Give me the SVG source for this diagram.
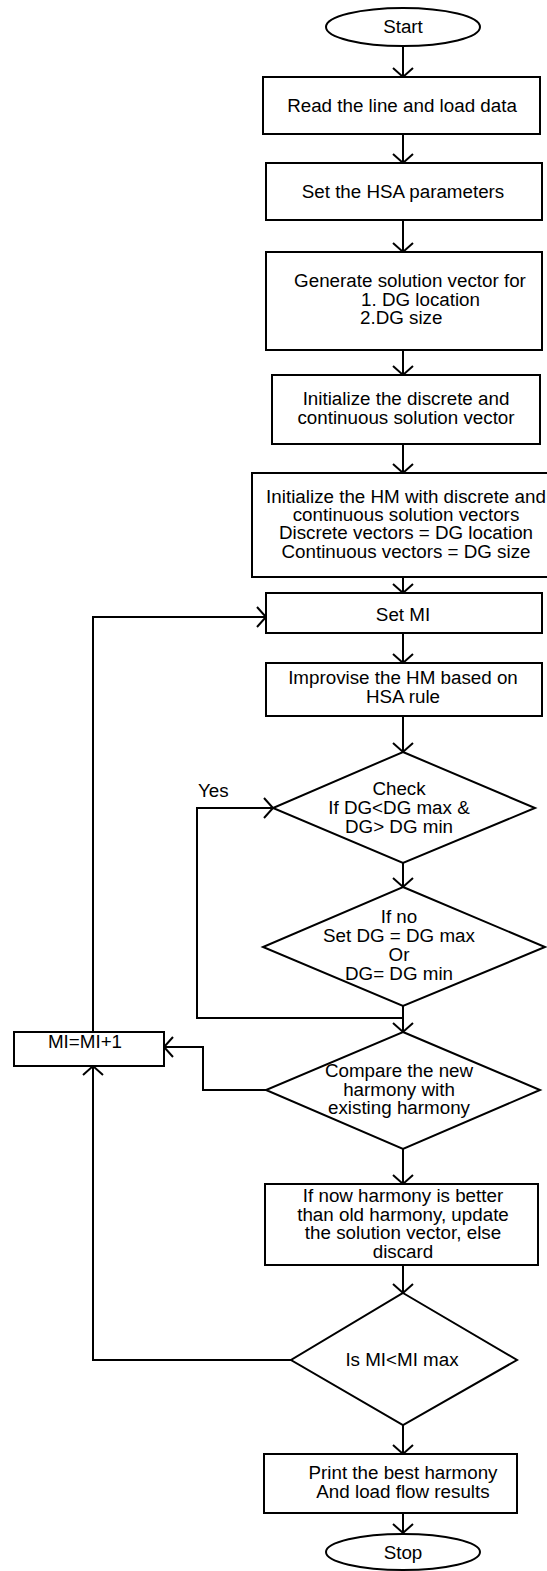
<svg xmlns="http://www.w3.org/2000/svg" width="547" height="1571" viewBox="0 0 547 1571">
  <style>
    .shape { fill: #ffffff; stroke: #000000; stroke-width: 2; }
    .edge { fill: none; stroke: #000000; stroke-width: 2; }
    text { font-family: "Liberation Sans", Arial, sans-serif; font-size: 18.8px; fill: #000000; text-anchor: middle; }
    .left { text-anchor: start; }
  </style>
  <defs>
    <marker id="arrow" markerUnits="userSpaceOnUse" markerWidth="24" markerHeight="24" viewBox="-12 -12 14 24" refX="0" refY="0" orient="auto" overflow="visible">
      <path d="M-9,-10 L0,0 L-9,10" fill="none" stroke="#000000" stroke-width="2"/>
    </marker>
  </defs>
  <rect width="547" height="1571" fill="#ffffff"/>

  <!-- connectors -->
  <g id="connectors">
    <path class="edge" d="M403,46 V77" marker-end="url(#arrow)"/>
    <path class="edge" d="M403,134 V163" marker-end="url(#arrow)"/>
    <path class="edge" d="M403,220 V252" marker-end="url(#arrow)"/>
    <path class="edge" d="M403,350 V375" marker-end="url(#arrow)"/>
    <path class="edge" d="M403,444 V473" marker-end="url(#arrow)"/>
    <path class="edge" d="M403,577 V593" marker-end="url(#arrow)"/>
    <path class="edge" d="M403,633 V663" marker-end="url(#arrow)"/>
    <path class="edge" d="M403,716 V752" marker-end="url(#arrow)"/>
    <path class="edge" d="M403,863 V887" marker-end="url(#arrow)"/>
    <path class="edge" d="M403,1006 V1032" marker-end="url(#arrow)"/>
    <path class="edge" d="M403,1018 H197 V808 H273" marker-end="url(#arrow)"/>
    <path class="edge" d="M266,1090 H203 V1047 H164" marker-end="url(#arrow)"/>
    <path class="edge" d="M93,1032 V617 H266" marker-end="url(#arrow)"/>
    <path class="edge" d="M403,1149 V1184" marker-end="url(#arrow)"/>
    <path class="edge" d="M403,1265 V1293" marker-end="url(#arrow)"/>
    <path class="edge" d="M291,1360 H93 V1066" marker-end="url(#arrow)"/>
    <path class="edge" d="M403,1425 V1454" marker-end="url(#arrow)"/>
    <path class="edge" d="M403,1513 V1533" marker-end="url(#arrow)"/>
    <text x="198" y="797" class="left">Yes</text>
  </g>

  <g id="start">
    <ellipse class="shape" cx="403" cy="27" rx="77" ry="19"/>
    <text x="403" y="33">Start</text>
  </g>

  <g id="read-data">
    <rect class="shape" x="263" y="77" width="277" height="57"/>
    <text x="402" y="112">Read the line and load data</text>
  </g>

  <g id="set-parameters">
    <rect class="shape" x="266" y="163" width="276" height="57"/>
    <text x="403" y="198">Set the HSA parameters</text>
  </g>

  <g id="generate-vector">
    <rect class="shape" x="266" y="252" width="276" height="98"/>
    <text x="410" y="287">Generate solution vector for</text>
    <text x="361" y="306" class="left">1. DG location</text>
    <text x="360" y="324" class="left">2.DG size</text>
  </g>

  <g id="init-vector">
    <rect class="shape" x="272" y="375" width="268" height="69"/>
    <text x="406" y="405">Initialize the discrete and</text>
    <text x="406" y="424">continuous solution vector</text>
  </g>

  <g id="init-hm">
    <rect class="shape" x="252" y="473" width="305" height="104"/>
    <text x="406" y="503">Initialize the HM with discrete and</text>
    <text x="406" y="521">continuous solution vectors</text>
    <text x="406" y="539">Discrete vectors = DG location</text>
    <text x="406" y="558">Continuous vectors = DG size</text>
  </g>

  <g id="set-mi">
    <rect class="shape" x="266" y="593" width="276" height="40"/>
    <text x="403" y="621">Set MI</text>
  </g>

  <g id="improvise">
    <rect class="shape" x="266" y="663" width="276" height="53"/>
    <text x="403" y="684">Improvise the HM based on</text>
    <text x="403" y="703">HSA rule</text>
  </g>

  <g id="check-limits">
    <polygon class="shape" points="403,752 535,808 403,863 273,808"/>
    <text x="399" y="795">Check</text>
    <text x="399" y="814">If DG&lt;DG max &amp;</text>
    <text x="399" y="833">DG&gt; DG min</text>
  </g>

  <g id="clamp-dg">
    <polygon class="shape" points="403,887 545,947 403,1006 263,947"/>
    <text x="399" y="923">If no</text>
    <text x="399" y="942">Set DG = DG max</text>
    <text x="399" y="961">Or</text>
    <text x="399" y="980">DG= DG min</text>
  </g>

  <g id="compare">
    <polygon class="shape" points="403,1032 540,1090 403,1149 266,1090"/>
    <text x="399" y="1077">Compare the new</text>
    <text x="399" y="1096">harmony with</text>
    <text x="399" y="1114">existing harmony</text>
  </g>

  <g id="increment-mi">
    <rect class="shape" x="14" y="1032" width="150" height="34"/>
    <text x="85" y="1048">MI=MI+1</text>
  </g>

  <g id="update">
    <rect class="shape" x="265" y="1184" width="273" height="81"/>
    <text x="403" y="1202">If now harmony is better</text>
    <text x="403" y="1221">than old harmony, update</text>
    <text x="403" y="1239">the solution vector, else</text>
    <text x="403" y="1258">discard</text>
  </g>

  <g id="mi-check">
    <polygon class="shape" points="403,1293 517,1360 403,1425 291,1360"/>
    <text x="402" y="1366">Is MI&lt;MI max</text>
  </g>

  <g id="print">
    <rect class="shape" x="264" y="1454" width="253" height="59"/>
    <text x="403" y="1479">Print the best harmony</text>
    <text x="403" y="1498">And load flow results</text>
  </g>

  <g id="stop">
    <ellipse class="shape" cx="403" cy="1552" rx="77" ry="18"/>
    <text x="403" y="1559">Stop</text>
  </g>
</svg>
